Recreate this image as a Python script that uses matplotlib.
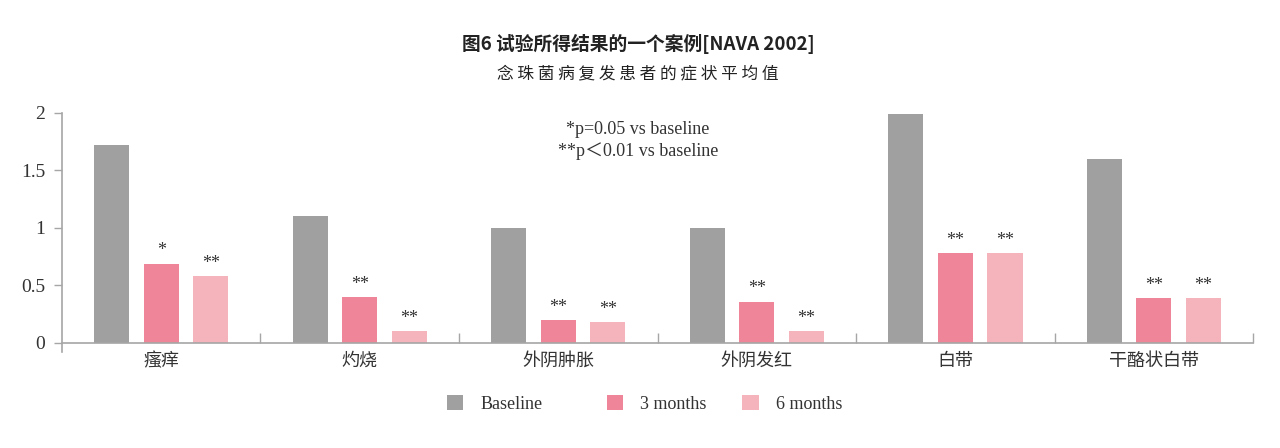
import numpy as np
import matplotlib.pyplot as plt

plt.rcParams['font.family'] = ['Liberation Serif', 'Noto Sans CJK SC']

categories = ['瘙痒', '灼烧', '外阴肿胀', '外阴发红', '白带', '干酪状白带']
baseline = [1.72, 1.10, 1.00, 1.00, 1.99, 1.60]
month3 = [0.69, 0.40, 0.20, 0.36, 0.78, 0.39]
month6 = [0.58, 0.10, 0.18, 0.10, 0.78, 0.39]
stars3 = ['*', '**', '**', '**', '**', '**']
stars6 = ['**', '**', '**', '**', '**', '**']

c_base = '#a0a0a0'
c_3m = '#ef8598'
c_6m = '#f5b3bb'
txt = '#333333'
axc = '#a6a6a6'

fig = plt.figure(figsize=(12.8, 4.48), dpi=100)
ax = fig.add_axes([0.0484, 0.214, 0.9306, 0.534])

x = np.arange(len(categories))
w = 0.177
off = 0.25
h1 = ax.bar(x - off, baseline, w, color=c_base, label='Baseline')
h2 = ax.bar(x, month3, w, color=c_3m, label='3 months')
h3 = ax.bar(x + off, month6, w, color=c_6m, label='6 months')

for xi, v, s in zip(x, month3, stars3):
    ax.annotate(s, (xi, v), xytext=(0, 3), textcoords='offset points',
                ha='center', va='bottom', fontsize=13, color=txt)
for xi, v, s in zip(x + off, month6, stars6):
    ax.annotate(s, (xi, v), xytext=(0, 3), textcoords='offset points',
                ha='center', va='bottom', fontsize=13, color=txt)

ax.set_xlim(-0.5, 5.5)
ax.set_ylim(-0.08, 2.0)
ax.set_yticks([0, 0.5, 1, 1.5, 2])
ax.set_yticklabels(['0', '0.5', '1', '1.5', '2'], fontsize=14, color=txt)
ax.set_xticks(np.arange(0.5, 6, 1), minor=True)
ax.tick_params(axis='x', which='minor', direction='in', length=7, color=axc, width=1)
ax.tick_params(axis='x', which='major', length=0, pad=7, labelsize=13, labelcolor=txt)
ax.tick_params(axis='y', length=6, color=axc, width=1, pad=6)
ax.set_xticks(x)
ax.set_xticklabels(categories, fontsize=13, family=['Noto Sans CJK SC'], color=txt)

ax.spines['right'].set_color('none')
ax.spines['top'].set_color('none')
ax.spines['bottom'].set_position(('data', 0))
ax.spines['left'].set_color(axc)
ax.spines['bottom'].set_color(axc)
ax.spines['left'].set_linewidth(1.2)
ax.spines['bottom'].set_linewidth(1.2)

fig.text(0.4984, 0.712, '*p=0.05 vs baseline', ha='center', va='center', fontsize=13, color=txt)
fig.text(0.4984, 0.662, '**p\uff1c0.01 vs baseline', ha='center', va='center', fontsize=13, color=txt)

fig.text(0.4984, 0.902, '图6 试验所得结果的一个案例[NAVA 2002]', ha='center', va='center',
         fontsize=13.5, fontweight='bold', color='#222222', family=['Noto Sans CJK SC'])
fig.text(0.4984, 0.835, ' '.join('念珠菌病复发患者的症状平均值'), ha='center', va='center',
         fontsize=12, color='#222222', family=['Noto Sans CJK SC'])

for h, lx in zip([h1, h2, h3], [0.349, 0.474, 0.580]):
    leg = fig.legend(handles=[h], loc='center left', bbox_to_anchor=(lx, 0.098), frameon=False,
                     handlelength=0.9, handleheight=0.9, handletextpad=0.95,
                     borderpad=0, borderaxespad=0, fontsize=13)
    for t in leg.get_texts():
        t.set_color(txt)

fig.savefig('out.png', dpi=100)
